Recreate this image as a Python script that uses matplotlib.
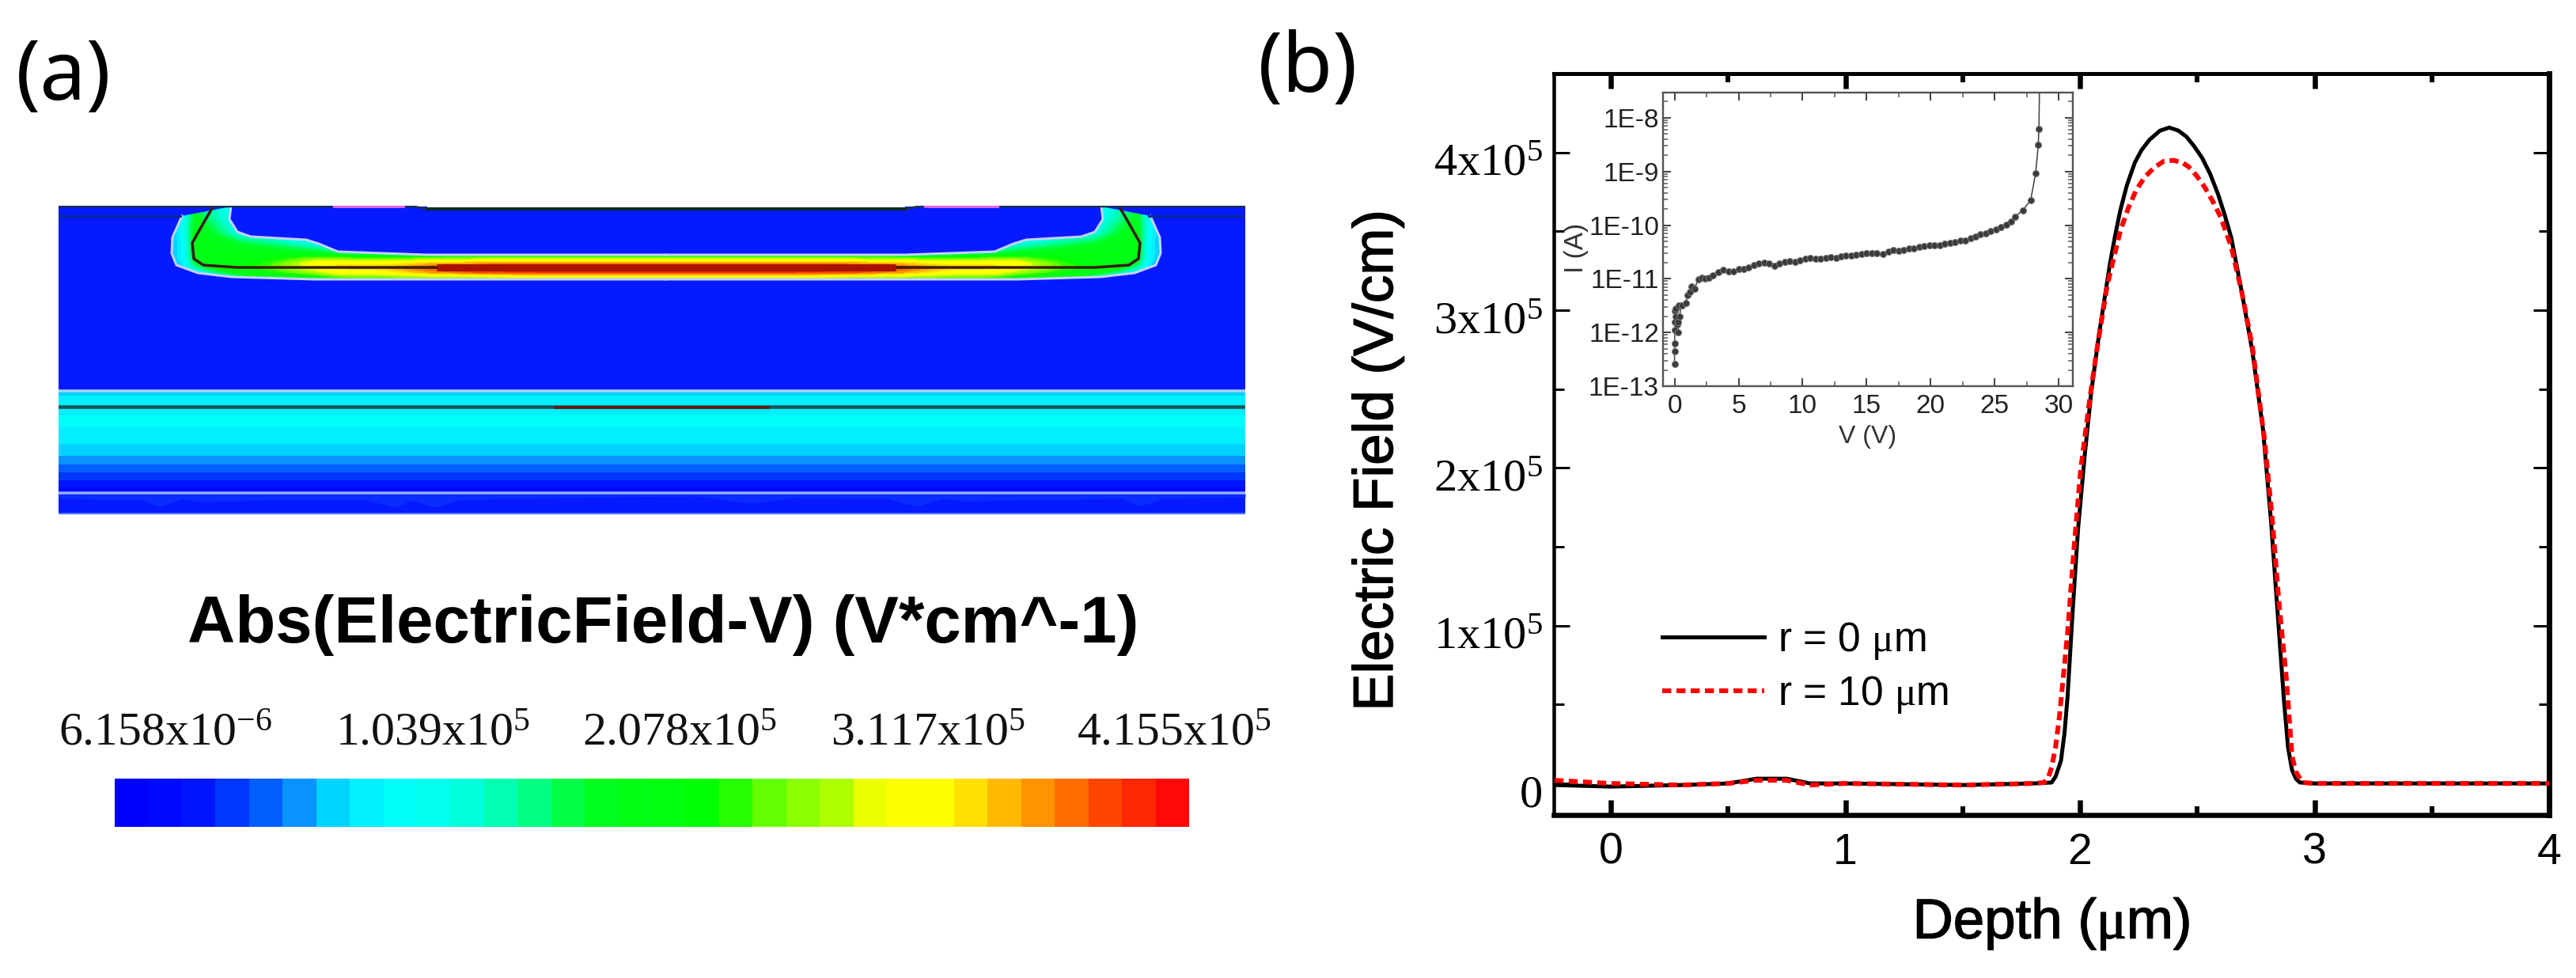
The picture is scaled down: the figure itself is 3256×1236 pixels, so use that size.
import numpy as np
import matplotlib
matplotlib.use("Agg")
import matplotlib.pyplot as plt
import matplotlib.patheffects as pe
from matplotlib.colors import LinearSegmentedColormap, Normalize
from matplotlib.cm import ScalarMappable
from matplotlib.patches import Polygon
from matplotlib.ticker import MultipleLocator, FixedLocator, NullFormatter, FuncFormatter
from matplotlib.transforms import ScaledTranslation

W, H = 3256, 1236
plt.rcParams['font.family'] = ['Liberation Sans', 'DejaVu Sans']
plt.rcParams['mathtext.fontset'] = 'custom'
plt.rcParams['mathtext.rm'] = 'Liberation Serif'
plt.rcParams['mathtext.it'] = 'Liberation Serif:italic'
plt.rcParams['mathtext.default'] = 'rm'

# ---------- panel (b) main curves: depth (um), field (1e5 V/cm)
r0_depth = [-0.24, 0.0, 0.3, 0.5, 0.62, 0.75, 0.85, 1.0, 1.5, 1.8, 1.879, 1.896, 1.919, 1.934, 1.947, 1.969, 1.992, 2.020, 2.048,
            2.082, 2.127, 2.150, 2.172, 2.200, 2.234, 2.262, 2.296, 2.341, 2.381, 2.420, 2.454, 2.488, 2.521, 2.555, 2.589, 2.617, 2.645, 2.690, 2.735, 2.780,
            2.814, 2.842, 2.870, 2.887, 2.904, 2.921, 2.938, 3.0, 3.5, 4.0]
r0_field = [-0.01, -0.02, -0.01, 0.0, 0.03, 0.03, 0.0, 0.0, -0.01, 0.0, 0.006, 0.043, 0.144, 0.317, 0.548, 1.096, 1.615, 2.076, 2.480,
            2.855, 3.287, 3.474, 3.633, 3.792, 3.936, 4.014, 4.080, 4.138, 4.158, 4.138, 4.100, 4.037, 3.965, 3.864, 3.734, 3.604, 3.460, 3.114, 2.739, 2.249,
            1.672, 1.096, 0.519, 0.230, 0.086, 0.029, 0.006, 0.0, 0.0, 0.0]
r10_depth = [-0.24, 0.0, 0.3, 0.5, 0.62, 0.75, 0.85, 1.0, 1.5, 1.8, 1.846, 1.863, 1.879, 1.896, 1.913, 1.947, 1.975, 2.003, 2.043,
             2.071, 2.116, 2.172, 2.206, 2.240, 2.279, 2.319, 2.358, 2.398, 2.437, 2.465, 2.499, 2.533, 2.566, 2.600, 2.645, 2.690, 2.735, 2.786,
             2.820, 2.848, 2.880, 2.904, 2.921, 2.949, 3.0, 3.5, 4.0]
r10_field = [0.02, 0.0, -0.01, 0.0, 0.02, 0.02, -0.01, 0.0, -0.01, 0.0, 0.006, 0.029, 0.101, 0.230, 0.432, 0.951, 1.499, 1.990, 2.451,
             2.739, 3.157, 3.503, 3.647, 3.763, 3.849, 3.907, 3.945, 3.950, 3.936, 3.907, 3.849, 3.777, 3.691, 3.590, 3.402, 3.114, 2.768, 2.191,
             1.672, 1.153, 0.663, 0.173, 0.072, 0.006, 0.0, 0.0, 0.0]
x_major = [0, 1, 2, 3, 4]
y_major = [0, 1, 2, 3, 4]
y_labels = ['0', '1x10$^{5}$', '2x10$^{5}$', '3x10$^{5}$', '4x10$^{5}$']
legend_labels = ['r = 0 $\\mu$m', 'r = 10 $\\mu$m']

# ---------- inset I-V
iv_volt = [0.0, 0.0, 0.0, 0.03, 0.05, 0.05, 0.08, 0.1, 0.2, 0.3, 0.3, 0.4, 0.5, 0.35, 0.6, 0.9, 1.0, 1.2, 1.3, 1.55, 1.85,
           2.1, 2.4, 2.7, 3.0, 3.4, 3.8, 4.2, 4.6, 5.0, 5.4, 5.8, 6.2, 6.6, 7.0, 7.4, 7.8, 8.2, 8.6, 9.0, 9.4, 9.8,
           10.2, 10.6, 11.0, 11.4, 11.8, 12.2, 12.6, 13.0, 13.4, 13.8, 14.2, 14.6, 15.0, 15.4, 15.8, 16.3, 16.7,
           17.1, 17.5, 17.9, 18.3, 18.7, 19.1, 19.5, 19.9, 20.3, 20.7, 21.1, 21.5, 21.9, 22.3, 22.7, 23.1, 23.5,
           23.9, 24.3, 24.7, 25.1, 25.5, 25.9, 26.3, 26.6, 27.2, 27.8, 28.2, 28.4, 28.45, 28.5]
iv_log = [-12.58, -12.35, -12.2, -11.95, -11.8, -11.6, -11.55, -11.7, -11.85, -12.0, -11.8, -11.7, -11.5, -11.5, -11.5,
          -11.45, -11.3, -11.25, -11.14, -11.19, -11.01, -10.98, -11.0, -10.98, -10.93, -10.88, -10.83, -10.86,
          -10.86, -10.82, -10.82, -10.79, -10.75, -10.72, -10.7, -10.72, -10.76, -10.72, -10.69, -10.67, -10.69,
          -10.66, -10.63, -10.61, -10.63, -10.63, -10.61, -10.6, -10.61, -10.58, -10.56, -10.56, -10.55, -10.54,
          -10.53, -10.52, -10.53, -10.54, -10.49, -10.47, -10.48, -10.46, -10.44, -10.43, -10.41, -10.39, -10.38,
          -10.37, -10.37, -10.34, -10.33, -10.31, -10.29, -10.28, -10.24, -10.21, -10.17, -10.15, -10.11, -10.08,
          -10.04, -9.99, -9.94, -9.84, -9.72, -9.54, -9.03, -8.51, -8.21, -7.4]
iv_x_major = [0, 5, 10, 15, 20, 25, 30]
iv_y_major = [-13, -12, -11, -10, -9, -8]

# ---------- panel (a) simulated field, 1e5 V/cm, half-section mirrored about device centre
center_x = 842
well_u = [0, 160, 240, 300, 360, 415, 440, 500, 540, 570, 595, 610, 625]
well_y = [260, 275, 295, 310, 318, 322, 326, 332, 338, 344, 349, 354]
well_field = [
    [1.0, 1.0, 1.0, 1.0, 1.0, 1.0, 1.0, 1.0, 1.0, 1.4, 1.7, 1.1, 0.6],
    [1.0, 1.0, 1.0, 1.0, 1.0, 1.0, 1.0, 1.0, 1.05, 1.5, 1.9, 1.2, 0.7],
    [1.0, 1.0, 1.0, 1.0, 1.0, 1.0, 1.05, 1.15, 1.3, 1.8, 2.0, 1.2, 0.7],
    [1.2, 1.2, 1.2, 1.2, 1.2, 1.2, 1.35, 1.7, 1.9, 2.0, 2.0, 1.1, 0.7],
    [1.4, 1.4, 1.4, 1.4, 1.5, 1.6, 1.8, 2.0, 2.05, 2.05, 2.0, 1.1, 0.7],
    [1.8, 1.8, 1.8, 1.8, 1.8, 1.9, 2.05, 2.1, 2.1, 2.1, 2.0, 1.1, 0.7],
    [2.6, 2.6, 2.6, 2.5, 2.4, 2.5, 2.6, 2.2, 2.1, 2.05, 1.9, 1.1, 0.7],
    [3.4, 3.4, 3.4, 3.3, 3.1, 3.2, 3.1, 2.4, 2.1, 2.05, 1.8, 1.0, 0.6],
    [4.15, 4.15, 4.1, 3.8, 3.4, 3.3, 3.1, 2.5, 2.2, 2.0, 1.5, 1.0, 0.6],
    [3.9, 3.9, 3.8, 3.5, 3.1, 3.1, 2.8, 2.3, 2.05, 1.6, 1.1, 0.9, 0.6],
    [3.1, 3.1, 3.0, 2.9, 2.7, 2.6, 2.3, 2.05, 1.6, 1.1, 0.9, 0.7, 0.5],
    [2.3, 2.3, 2.2, 2.1, 2.0, 1.9, 1.6, 1.3, 1.0, 0.8, 0.7, 0.5, 0.5],
]
# depletion edge: u from centre, y
edge_inner_u = [0, 302, 359, 415, 439, 455, 525, 542, 552, 550]
edge_inner_y = [322, 322, 320, 318, 308, 303, 299, 293, 277, 261]
edge_outer_u = [612, 624, 625, 619, 592, 549, 445, 0]
edge_outer_y = [273, 300, 320, 335, 345, 350, 353, 353]
# metallurgical junction line
junction_u = [0, 542, 585, 597, 599, 582, 572]
junction_y = [338, 338, 335, 327, 307, 277, 260]

substrate_y = [495, 505, 514, 525, 540, 555, 570, 587, 603, 620, 624]
substrate_field = [0.80, 1.0, 0.95, 1.04, 1.04, 0.95, 0.85, 0.65, 0.45, 0.2, 0.1]
ripple_x = [74, 180, 200, 230, 260, 330, 460, 500, 520, 550, 580, 640, 780, 880, 950, 1000, 1120, 1160, 1190, 1220, 1420, 1440, 1470, 1574]
ripple_y = [630, 632, 640, 631, 634, 632, 631, 641, 632, 641, 632, 630, 628, 627, 636, 629, 630, 640, 630, 633, 630, 640, 630, 628]

cbar_stops = [(0, '#0000ff'), (0.06, '#0010ff'), (0.12, '#0050ff'), (0.16, '#0890ff'), (0.20, '#00e0ff'),
              (0.25, '#00ffff'), (0.32, '#00ffe0'), (0.38, '#00ff90'), (0.44, '#00ff20'), (0.56, '#00ff00'),
              (0.62, '#70ff00'), (0.68, '#b0ff00'), (0.72, '#ffff00'), (0.78, '#ffff00'), (0.82, '#ffd000'),
              (0.86, '#ffa000'), (0.90, '#ff7000'), (0.94, '#ff4000'), (1.0, '#ff0808')]
cbar_labels = ['6.158x10$^{-6}$', '1.039x10$^{5}$', '2.078x10$^{5}$', '3.117x10$^{5}$', '4.155x10$^{5}$']
cbar_label_left = [74, 424, 736, 1050, 1361]
field_max = 4.155


def axpx(l, t, r, b, **kw):
    return fig.add_axes([l / W, 1 - b / H, (r - l) / W, (b - t) / H], **kw)


def px(v):
    return v * 0.72


fig = plt.figure(figsize=(W / 100, H / 100), dpi=100, facecolor='white')
field_cmap = LinearSegmentedColormap.from_list('sim', cbar_stops, N=32)
norm = Normalize(0, field_max)
heavy = [pe.withStroke(linewidth=1.0, foreground='black')]

# ---------- panel (a)
a = axpx(74, 260, 1574, 650)
a.set_xlim(74, 1574)
a.set_ylim(650, 260)
a.axis('off')
a.fill_between([74, 1574], [260, 260], [650, 650], color='#051aff', lw=0, zorder=0)

levels = np.linspace(0, field_max, 33)
U = np.array(well_u)
WF = np.array(well_field, dtype=float)
for sign in (-1, 1):
    xs = center_x + sign * U
    order = np.argsort(xs)
    cs = a.contourf(xs[order], well_y, WF[:, order], levels=levels, cmap=field_cmap, norm=norm, zorder=1)
    poly_u = edge_inner_u + edge_outer_u
    poly_y = edge_inner_y + edge_outer_y
    verts = np.column_stack([center_x + sign * np.array(poly_u), poly_y])
    patch = Polygon(verts, closed=True, transform=a.transData, fc='none', ec='none')
    a.add_patch(patch)
    cs.set_clip_path(patch)
    a.plot(center_x + sign * np.array(edge_inner_u), edge_inner_y, color='#c4d0ff', lw=px(3), zorder=3)
    a.plot(center_x + sign * np.array(edge_outer_u), edge_outer_y, color='#c4d0ff', lw=px(3), zorder=3)
    a.plot(center_x + sign * np.array(junction_u), junction_y, color='#3a1c14', lw=px(3.5), zorder=4)
# hot core of the band
a.plot([center_x - 290, center_x + 290], [338, 338], color='#a81200', lw=px(9), zorder=4, solid_capstyle='butt')

# substrate layers
X2 = [74, 1574]
Z2 = np.column_stack([substrate_field, substrate_field])
a.contourf(X2, substrate_y, Z2, levels=levels, cmap=field_cmap, norm=norm, zorder=1)
a.fill_between(ripple_x, 624, ripple_y, color='#0a2cff', lw=0, zorder=1)
a.plot(X2, [494, 494], color='#a8d4ff', lw=px(3.5), zorder=3)
a.plot(X2, [514, 514], color='#1e5458', lw=px(4.5), zorder=3)
a.plot([702, 971], [515, 515], color='#701408', lw=px(3.5), zorder=4)
a.plot(X2, [623, 623], color='#98aeff', lw=px(3.5), zorder=3)
a.plot(X2, [649, 649], color='#5070ff', lw=px(2), zorder=3)

# surface
a.fill_between([74, 1574], 258, 261.5, color='white', lw=0, zorder=5)
a.fill_between([540, 1144], 258, 264, color='white', lw=0, zorder=5)
a.plot([74, 524, 540], [261, 261, 264], color='#20304a', lw=px(2.5), zorder=6)
a.plot([1160, 1144], [261, 264], color='#20304a', lw=px(2.5), zorder=6)
a.plot([1160, 1574], [261, 261], color='#20304a', lw=px(2.5), zorder=6)
a.plot([540, 1144], [264, 264], color='#102a20', lw=px(4), zorder=6)
a.plot([423, 510], [261, 261], color='#e060e0', lw=px(4), zorder=7)
a.plot([1170, 1261], [261, 261], color='#e060e0', lw=px(4), zorder=7)
a.plot([74, 228], [273, 273], color='#062a90', lw=px(3), zorder=3)
a.plot([1452, 1574], [273, 273], color='#062a90', lw=px(3), zorder=3)

fig.text(838 / W, 1 - 812 / H, 'Abs(ElectricField-V) (V*cm^-1)', ha='center', va='baseline',
         fontsize=60, fontweight='bold', color='black')
for lab, left in zip(cbar_labels, cbar_label_left):
    fig.text(left / W, 1 - 942 / H, lab, ha='left', va='baseline', fontsize=43,
             family='Liberation Serif', color='#111111')
cax = axpx(145, 984, 1503, 1045)
cb = fig.colorbar(ScalarMappable(norm=norm, cmap=field_cmap), cax=cax, orientation='horizontal')
cb.set_ticks([])
cb.outline.set_visible(False)

fig.text(20 / W, 1 - 126 / H, '(a)', fontsize=75, family='Noto Sans', ha='left', va='baseline', color='black')
fig.text(1590 / W, 1 - 116 / H, '(b)', fontsize=75, family='Noto Sans', ha='left', va='baseline', color='black')

# ---------- panel (b) main
m = axpx(1964, 93, 3222, 1030)
m.plot(r0_depth, r0_field, color='black', lw=px(5), label=legend_labels[0], zorder=3)
m.plot(r10_depth, r10_field, color='#ff0000', lw=px(6), dashes=(1.9, 1.1), label=legend_labels[1], zorder=4)
m.set_xlim(-0.243, 4.0)
m.set_ylim(-0.2, 4.5)
for side, w in (('left', 4.5), ('right', 7), ('top', 5), ('bottom', 6.5)):
    m.spines[side].set_linewidth(px(w))
m.xaxis.set_major_locator(FixedLocator(x_major))
m.xaxis.set_minor_locator(MultipleLocator(0.5))
m.yaxis.set_major_locator(FixedLocator(y_major))
m.yaxis.set_minor_locator(MultipleLocator(0.5))
m.set_yticklabels(y_labels)
m.tick_params(axis='x', which='major', direction='in', top=True, length=px(19), width=px(6.5), pad=px(22), labelsize=40)
m.tick_params(axis='x', which='minor', direction='in', top=True, length=px(11), width=px(6))
m.tick_params(axis='y', which='major', direction='in', right=True, length=px(20), width=px(3), pad=px(14), labelsize=42)
m.tick_params(axis='y', which='minor', direction='in', right=True, length=px(13), width=px(3))
for t in m.get_yticklabels():
    t.set_family('Liberation Serif')
    t.set_transform(t.get_transform() + ScaledTranslation(0, -9 / 100, fig.dpi_scale_trans))
m.set_xlabel('Depth ($\\mu$m)', fontsize=51, labelpad=px(12), path_effects=heavy)
m.xaxis.set_label_coords(0.5, 0, transform=m.transAxes + ScaledTranslation(0, -156 / 100, fig.dpi_scale_trans))
m.xaxis.label.set_va('baseline')
m.set_ylabel('Electric Field (V/cm)', fontsize=51, path_effects=heavy)
m.yaxis.set_label_coords(0, 0.5, transform=m.transAxes + ScaledTranslation(-189 / 100, -20 / 100, fig.dpi_scale_trans))
leg = m.legend(loc='upper left', bbox_to_anchor=(0.109, 0.263), frameon=False, fontsize=37, borderpad=0,
               borderaxespad=0, handlelength=2.5, handletextpad=0.33, labelspacing=0.32)

# ---------- inset
ins = axpx(2102, 117, 2620, 488)
ins.plot(iv_volt, 10.0 ** np.array(iv_log), color='#444444', lw=px(1.6), marker='o', ms=px(8),
         mfc='#3a3a3a', mec='#777777', mew=px(1))
ins.set_yscale('log')
ins.set_xlim(-0.9, 31.1)
ins.set_ylim(1e-13, 10 ** -7.53)
for s in ins.spines.values():
    s.set_linewidth(px(2.4))
    s.set_color('#555555')
ins.xaxis.set_major_locator(FixedLocator(iv_x_major))
ins.xaxis.set_minor_locator(MultipleLocator(2.5))
ins.yaxis.set_major_locator(FixedLocator([10.0 ** e for e in iv_y_major]))
ins.yaxis.set_minor_locator(FixedLocator([k * 10.0 ** e for e in iv_y_major for k in range(2, 10)]))
ins.yaxis.set_major_formatter(FuncFormatter(lambda v, p: '1E%d' % round(np.log10(v))))
ins.yaxis.set_minor_formatter(NullFormatter())
ins.tick_params(which='major', direction='in', top=True, right=True, length=px(10), width=px(2), color='#444444',
                labelcolor='#222222', labelsize=24, pad=px(5))
ins.tick_params(which='minor', direction='in', top=True, right=True, length=px(6), width=px(1.5), color='#555555')
ins.tick_params(axis='x', which='major', pad=px(10))
ins.set_xlabel('V (V)', fontsize=23, color='#333333', labelpad=px(8))
ins.set_ylabel('I (A)', fontsize=24, color='#333333')
ins.yaxis.set_label_coords(0, 0.47, transform=ins.transAxes + ScaledTranslation(-94 / 100, 0, fig.dpi_scale_trans))

fig.savefig('out.png', dpi=100)
